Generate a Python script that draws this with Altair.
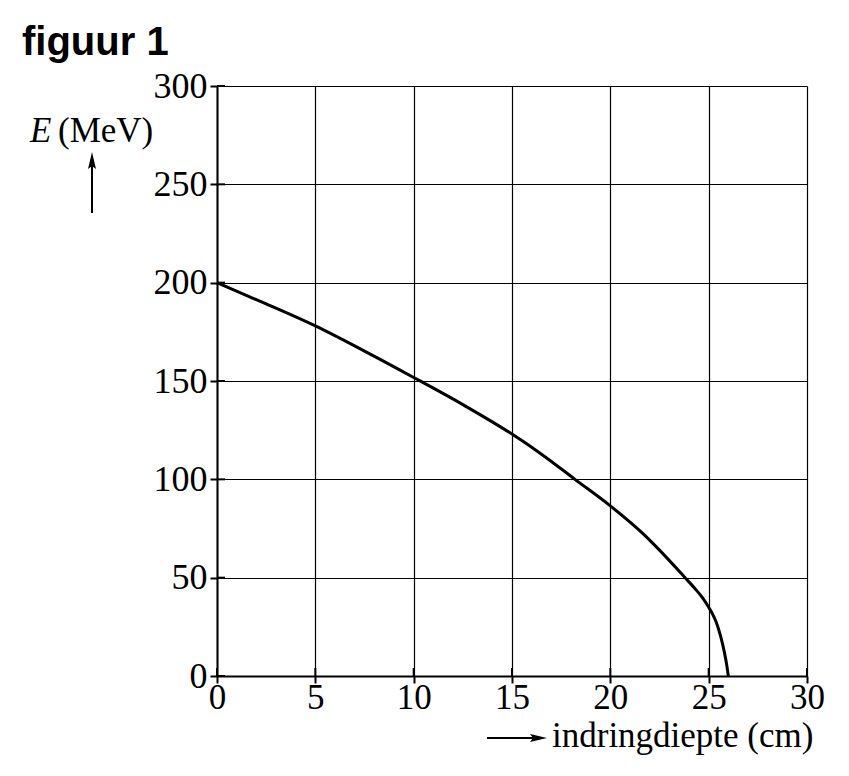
import altair as alt
import pandas as pd

# Data
depth_cm = [0, 2.5, 5, 7.5, 10, 12.5, 15, 16.5, 18.2, 20, 21.7, 22.5, 23.8, 24.3, 24.7, 25.0, 25.2, 25.4, 25.6, 25.8, 25.92, 26.0]
energy_mev = [200, 189.2, 178, 165.2, 151.8, 138, 123, 112.8, 100, 86.5, 72, 64, 50, 44.5, 39.6, 35.0, 31.5, 27, 20.5, 12, 5.5, 0]

x_ticks = [0, 5, 10, 15, 20, 25, 30]
y_ticks = [0, 50, 100, 150, 200, 250, 300]

title_text = "figuur 1"
y_title_symbol = "E"
y_title_unit = "(MeV)"
x_title_text = "indringdiepte (cm)"

SERIF = "Liberation Serif"
SANS = "Liberation Sans"
FS_T = 35   # axis titles
FS_L = 36   # y tick labels
FS_XL = 35  # x tick labels

df = pd.DataFrame({"x": depth_cm, "E": energy_mev})

xscale = alt.Scale(domain=[0, 30], nice=False)
yscale = alt.Scale(domain=[0, 300], nice=False)

curve = alt.Chart(df).mark_line(color="black", strokeWidth=3, interpolate="monotone").encode(
    x=alt.X("x:Q", scale=xscale,
            axis=alt.Axis(values=x_ticks, title=None, format="d", grid=True,
                          labelPadding=-3, tickSize=7, labelFontSize=FS_XL)),
    y=alt.Y("E:Q", scale=yscale,
            axis=alt.Axis(values=y_ticks, title=None, format="d", grid=True,
                          labelPadding=3, tickSize=7, labelFontSize=FS_L)),
)

# inward halves of the tick marks
yt = alt.Chart(pd.DataFrame({"E": y_ticks})).mark_rule(color="black", strokeWidth=2).encode(
    y=alt.Y("E:Q", scale=yscale), x=alt.value(0), x2=alt.value(8))
xt = alt.Chart(pd.DataFrame({"x": x_ticks})).mark_rule(color="black", strokeWidth=2).encode(
    x=alt.X("x:Q", scale=xscale), y=alt.value(590), y2=alt.value(582))

one = pd.DataFrame({"t": [title_text]})
title = alt.Chart(one).mark_text(font=SANS, fontWeight="bold", fontSize=40, align="left",
                                 baseline="alphabetic", color="black").encode(
    text="t:N", x=alt.value(-195), y=alt.value(-31))

e_sym = alt.Chart(pd.DataFrame({"t": [y_title_symbol]})).mark_text(
    font=SERIF, fontStyle="italic", fontSize=FS_T, align="left", baseline="alphabetic", color="black").encode(
    text="t:N", x=alt.value(-187), y=alt.value(56))
e_unit = alt.Chart(pd.DataFrame({"t": [y_title_unit]})).mark_text(
    font=SERIF, fontSize=FS_T, align="left", baseline="alphabetic", color="black").encode(
    text="t:N", x=alt.value(-159), y=alt.value(56))

up_shaft = alt.Chart(one).mark_rule(color="black", strokeWidth=2).encode(
    x=alt.value(-125), y=alt.value(127), y2=alt.value(80))
up_head = alt.Chart(one).mark_point(shape="M0,-1L0.4,0.7L0,0.4L-0.4,0.7Z", filled=True,
                                    color="black", size=400, opacity=1, strokeWidth=0).encode(
    x=alt.value(-125), y=alt.value(76))

right_shaft = alt.Chart(one).mark_rule(color="black", strokeWidth=2).encode(
    y=alt.value(652), x=alt.value(270), x2=alt.value(318))
right_head = alt.Chart(one).mark_point(shape="M1,0L-0.7,0.4L-0.4,0L-0.7,-0.4Z", filled=True,
                                       color="black", size=400, opacity=1, strokeWidth=0).encode(
    y=alt.value(652), x=alt.value(320))

x_title = alt.Chart(pd.DataFrame({"t": [x_title_text]})).mark_text(
    font=SERIF, fontSize=FS_T, align="left", baseline="alphabetic", color="black").encode(
    text="t:N", x=alt.value(335), y=alt.value(661))

chart = alt.layer(
    curve, yt, xt, title, e_sym, e_unit, up_shaft, up_head, right_shaft, right_head, x_title
).properties(
    width=590, height=590, autosize="none",
    padding={"left": 209, "top": 78, "right": 30, "bottom": 88},
    background="white",
).configure_view(strokeWidth=0).configure_axis(
    domainColor="black", domainWidth=2, gridColor="black", gridWidth=1.2, gridOpacity=1,
    tickColor="black", tickWidth=2, labelColor="black", labelFont=SERIF,
    labelFlush=False, labelOverlap=False,
)

chart.save("out.html", embed_options={"renderer": "svg", "actions": False})
